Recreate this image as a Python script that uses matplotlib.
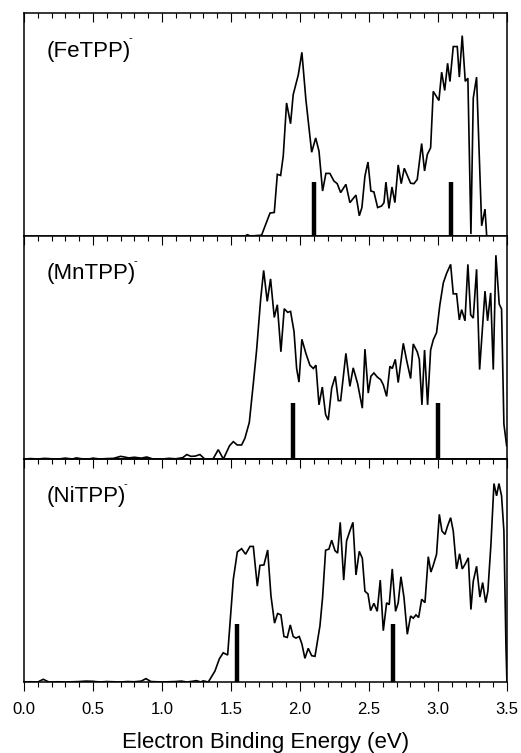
import matplotlib
matplotlib.use("Agg")
import matplotlib.pyplot as plt
from matplotlib.ticker import MultipleLocator

plt.rcParams['font.family'] = ['Liberation Sans', 'DejaVu Sans']

# ---------------- data ----------------
labels = ["(FeTPP)", "(MnTPP)", "(NiTPP)"]

fe_E = [1.60, 1.62, 1.64, 1.722, 1.783, 1.814, 1.836, 1.86, 1.879, 1.903, 1.932, 1.951, 1.988, 2.014,
        2.043, 2.085, 2.114, 2.138, 2.164, 2.188, 2.217, 2.246, 2.27, 2.295, 2.333, 2.362, 2.406,
        2.43, 2.449, 2.471, 2.493, 2.514, 2.536, 2.563, 2.592, 2.609, 2.623, 2.645, 2.667, 2.688,
        2.712, 2.734, 2.756, 2.78, 2.802, 2.826, 2.85, 2.882, 2.903, 2.923, 2.947, 2.966, 3.007,
        3.027, 3.049, 3.07, 3.087, 3.111, 3.14, 3.155, 3.176, 3.198, 3.217, 3.239, 3.256, 3.28,
        3.317, 3.341, 3.353]
fe_v = [0.0, 0.006, 0.0, 0.004, 0.103, 0.106, 0.277, 0.272, 0.359, 0.597, 0.504, 0.634, 0.723, 0.824,
        0.612, 0.376, 0.44, 0.381, 0.202, 0.281, 0.281, 0.247, 0.235, 0.195, 0.232, 0.15, 0.184,
        0.091, 0.128, 0.269, 0.332, 0.202, 0.198, 0.128, 0.135, 0.15, 0.242, 0.124, 0.22, 0.15,
        0.319, 0.235, 0.304, 0.269, 0.237, 0.235, 0.254, 0.415, 0.292, 0.366, 0.396, 0.649, 0.608,
        0.735, 0.653, 0.775, 0.693, 0.85, 0.85, 0.713, 0.899, 0.694, 0.708, 0.009, 0.619, 0.713,
        0.046, 0.121, 0.004]

mn_E = [0.0, 0.05, 0.1, 0.15, 0.2, 0.25, 0.3, 0.35, 0.38, 0.42, 0.47, 0.5, 0.55, 0.6, 0.65, 0.7,
        0.72, 0.76, 0.8, 0.85, 0.89, 0.93, 1.0, 1.05, 1.1, 1.15, 1.18, 1.21, 1.24, 1.275, 1.31,
        1.37, 1.408, 1.445, 1.49, 1.517, 1.546, 1.577, 1.601, 1.633, 1.662, 1.686, 1.715, 1.737,
        1.763, 1.787, 1.814, 1.836, 1.862, 1.886, 1.911, 1.932, 1.957, 1.976, 1.993, 2.014, 2.043,
        2.072, 2.097, 2.116, 2.138, 2.162, 2.186, 2.205, 2.23, 2.256, 2.278, 2.295, 2.333, 2.362,
        2.386, 2.418, 2.452, 2.471, 2.495, 2.514, 2.536, 2.56, 2.585, 2.604, 2.628, 2.652, 2.669,
        2.691, 2.712, 2.749, 2.773, 2.802, 2.821, 2.85, 2.865, 2.884, 2.903, 2.925, 2.947, 2.966,
        2.99, 3.014, 3.039, 3.063, 3.092, 3.111, 3.135, 3.155, 3.172, 3.196, 3.217, 3.237, 3.256,
        3.28, 3.302, 3.341, 3.36, 3.382, 3.401, 3.42, 3.444, 3.461, 3.478, 3.498]
mn_v = [0.0, 0.002, 0.0, 0.003, 0.001, 0.0, 0.004, 0.0, 0.005, 0.001, 0.0, 0.004, 0.0, 0.002, 0.003,
        0.012, 0.01, 0.005, 0.008, 0.004, 0.009, 0.001, 0.0, 0.003, 0.001, 0.006, 0.02, 0.012,
        0.013, 0.02, 0.0, 0.0, 0.042, 0.0, 0.06, 0.078, 0.063, 0.063, 0.093, 0.164, 0.338, 0.489,
        0.715, 0.846, 0.707, 0.808, 0.635, 0.692, 0.481, 0.674, 0.658, 0.662, 0.572, 0.406, 0.345,
        0.537, 0.474, 0.421, 0.406, 0.421, 0.243, 0.323, 0.199, 0.175, 0.318, 0.371, 0.262, 0.262,
        0.474, 0.326, 0.409, 0.338, 0.228, 0.493, 0.296, 0.371, 0.386, 0.368, 0.356, 0.333, 0.281,
        0.416, 0.406, 0.447, 0.343, 0.519, 0.443, 0.361, 0.516, 0.481, 0.447, 0.243, 0.489, 0.243,
        0.489, 0.534, 0.567, 0.692, 0.79, 0.833, 0.873, 0.741, 0.741, 0.624, 0.67, 0.62, 0.873,
        0.647, 0.632, 0.851, 0.401, 0.753, 0.62, 0.745, 0.401, 0.914, 0.695, 0.673, 0.157, 0.059]

ni_E = [0.0, 0.05, 0.1, 0.14, 0.18, 0.25, 0.3, 0.4, 0.45, 0.5, 0.55, 0.6, 0.65, 0.7, 0.75, 0.8,
        0.85, 0.884, 0.92, 1.0, 1.05, 1.1, 1.14, 1.18, 1.22, 1.25, 1.28, 1.299, 1.336, 1.384, 1.416,
        1.444, 1.476, 1.498, 1.517, 1.546, 1.577, 1.606, 1.638, 1.662, 1.691, 1.71, 1.739, 1.766,
        1.79, 1.816, 1.838, 1.862, 1.884, 1.908, 1.93, 1.951, 1.971, 1.995, 2.014, 2.036, 2.06,
        2.085, 2.109, 2.145, 2.164, 2.186, 2.21, 2.23, 2.254, 2.273, 2.292, 2.317, 2.338, 2.362,
        2.384, 2.406, 2.43, 2.452, 2.471, 2.493, 2.512, 2.536, 2.56, 2.582, 2.604, 2.628, 2.647,
        2.669, 2.693, 2.712, 2.732, 2.754, 2.778, 2.802, 2.821, 2.841, 2.86, 2.882, 2.906, 2.93,
        2.949, 2.966, 2.99, 3.01, 3.029, 3.051, 3.07, 3.092, 3.111, 3.135, 3.157, 3.176, 3.196,
        3.22, 3.239, 3.256, 3.28, 3.304, 3.324, 3.346, 3.362, 3.384, 3.406, 3.425, 3.442, 3.461,
        3.478, 3.493, 3.5]
ni_v = [0.0, 0.001, 0.0, 0.012, 0.0, 0.001, 0.0, 0.002, 0.004, 0.003, 0.0, 0.002, 0.001, 0.0,
        0.002, 0.001, 0.004, 0.015, 0.002, 0.0, 0.001, 0.002, 0.004, 0.0, 0.003, 0.006, 0.0, 0.005,
        0.0, 0.049, 0.104, 0.131, 0.121, 0.303, 0.46, 0.583, 0.598, 0.573, 0.608, 0.608, 0.43,
        0.523, 0.525, 0.592, 0.386, 0.264, 0.307, 0.301, 0.204, 0.2, 0.256, 0.204, 0.197, 0.204,
        0.171, 0.106, 0.151, 0.118, 0.115, 0.252, 0.379, 0.591, 0.596, 0.636, 0.589, 0.578, 0.716,
        0.457, 0.633, 0.678, 0.716, 0.48, 0.586, 0.555, 0.407, 0.395, 0.32, 0.353, 0.317, 0.457,
        0.23, 0.355, 0.347, 0.507, 0.317, 0.355, 0.472, 0.379, 0.214, 0.296, 0.286, 0.301, 0.289,
        0.371, 0.356, 0.562, 0.493, 0.523, 0.573, 0.752, 0.677, 0.662, 0.7, 0.737, 0.677, 0.507,
        0.575, 0.507, 0.527, 0.557, 0.325, 0.452, 0.519, 0.381, 0.446, 0.356, 0.408, 0.617, 0.89,
        0.835, 0.89, 0.835, 0.677, 0.157, 0.0]

stick_E = [[2.10, 3.097], [1.947, 2.998], [1.541, 2.676]]
stick_h = [0.244, 0.25, 0.259]

xticks = [0.0, 0.5, 1.0, 1.5, 2.0, 2.5, 3.0, 3.5]
xlabel = "Electron Binding Energy (eV)"

# ---------------- figure ----------------
fig = plt.figure(figsize=(5.21, 7.53), dpi=100)
left, width = 0.046, 0.927
h = 0.2961
bottoms = [0.6865, 0.3904, 0.0943]
series = [(fe_E, fe_v), (mn_E, mn_v), (ni_E, ni_v)]


def style_ticks(axis_obj, direction):
    axis_obj.tick_params(axis='x', which='both', direction=direction, width=0.8)
    axis_obj.tick_params(axis='x', which='major', length=6.5)
    axis_obj.tick_params(axis='x', which='minor', length=3.5)


for i in range(3):
    ax = fig.add_axes([left, bottoms[i], width, h])
    E, v = series[i]
    ax.plot(E, v, color='black', lw=1.2, solid_joinstyle='miter')
    ax.vlines(stick_E[i], 0, stick_h[i], color='black', lw=3.2)
    ax.set_xlim(0, 3.5)
    ax.set_ylim(0, 1)
    ax.set_yticks([])
    ax.xaxis.set_major_locator(MultipleLocator(0.5))
    ax.xaxis.set_minor_locator(MultipleLocator(0.1))
    for sp in ax.spines.values():
        sp.set_linewidth(1.1)
    t = ax.text(0.046, 0.83, labels[i], transform=ax.transAxes, fontsize=16,
                va='center', ha='left')
    ax.annotate('-', xy=(1, 1), xycoords=t, xytext=(-1.5, -0.5), textcoords='offset points',
                fontsize=8, va='baseline', ha='left')
    if i < 2:
        ax.tick_params(axis='x', which='both', top=True, bottom=False, labelbottom=False)
        style_ticks(ax, 'in')
    else:
        ax.tick_params(axis='x', which='both', top=False, bottom=True, labelsize=12, pad=8)
        style_ticks(ax, 'out')
        ax.set_xticks(xticks)
        ax.set_xticklabels([f"{t:.1f}" for t in xticks])
        sec = ax.secondary_xaxis('top')
        sec.xaxis.set_major_locator(MultipleLocator(0.5))
        sec.xaxis.set_minor_locator(MultipleLocator(0.1))
        sec.tick_params(axis='x', which='both', labeltop=False)
        style_ticks(sec, 'in')
        sec.spines['top'].set_linewidth(1.1)
        ax.set_xlabel(xlabel, fontsize=16, labelpad=11)

fig.savefig("out.png", dpi=100)
